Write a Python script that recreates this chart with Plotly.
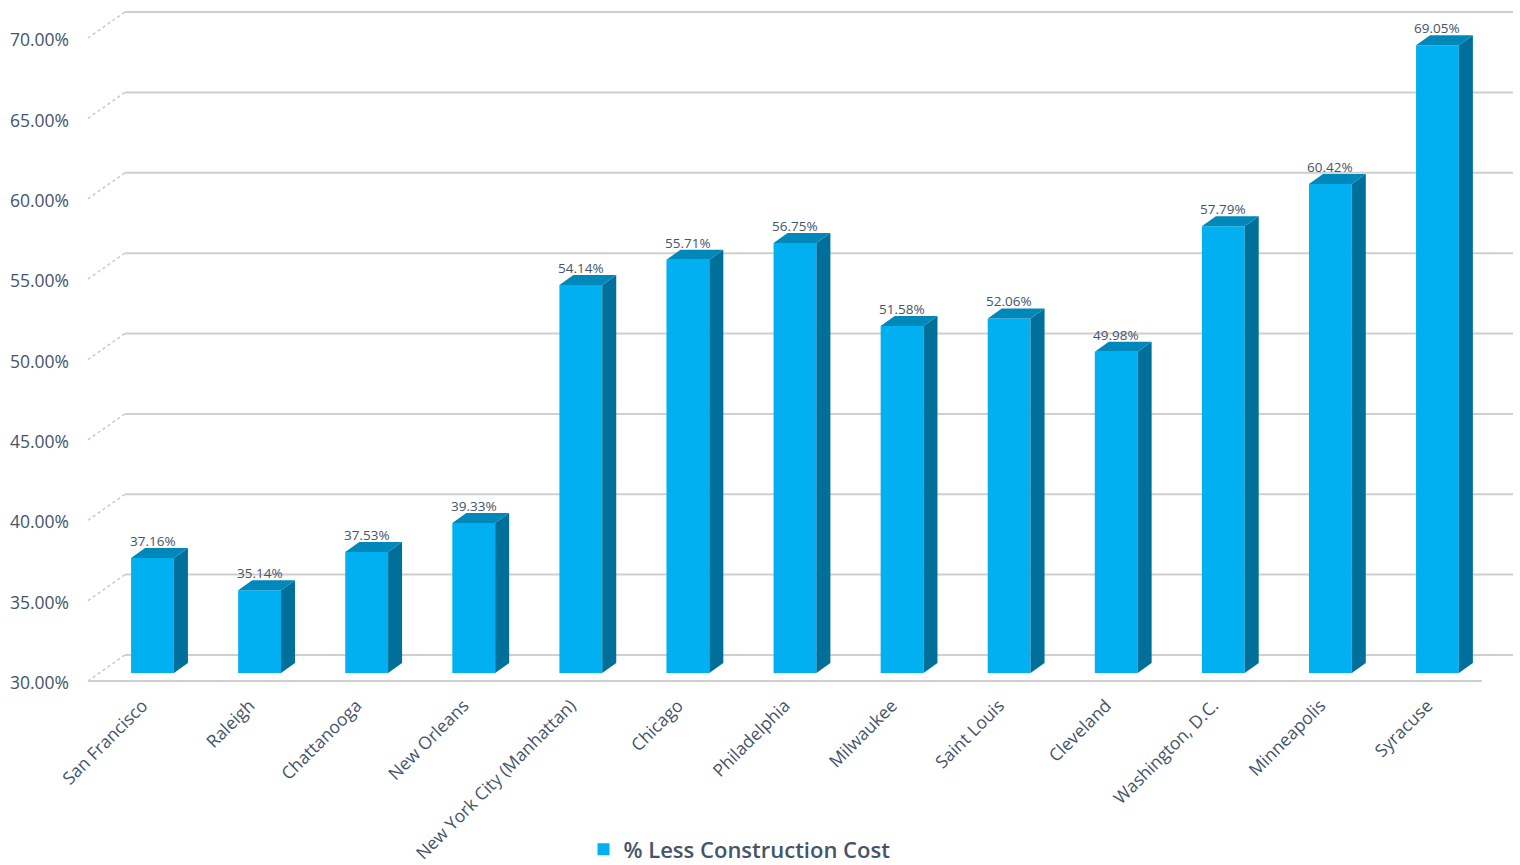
import plotly.graph_objects as go

cities = ["San Francisco", "Raleigh", "Chattanooga", "New Orleans",
          "New York City (Manhattan)", "Chicago", "Philadelphia", "Milwaukee",
          "Saint Louis", "Cleveland", "Washington, D.C.", "Minneapolis", "Syracuse"]
values = [37.16, 35.14, 37.53, 39.33, 54.14, 55.71, 56.75, 51.58, 52.06, 49.98, 57.79, 60.42, 69.05]
y_ticks = [30, 35, 40, 45, 50, 55, 60, 65, 70]
series_name = "% Less Construction Cost"

# ---- layout geometry ----
W, H = 1520, 865
L, R, T, B = 80, 0, 0, 181
plot_w, plot_h = W - L - R, H - T - B
cat_px = 107.08          # pixels per category
val_px = 16.075          # pixels per percentage point
floor_val = 30
floor_gap = 11           # px between floor of bars and bottom of plot area
first_cat_px = 152.5     # page x of first category centre

xmin = -(first_cat_px - L) / cat_px
xmax = xmin + plot_w / cat_px
ymin = floor_val - floor_gap / val_px
ymax = ymin + plot_h / val_px

bar_w = 0.40
bw_px = bar_w * cat_px
dep_x, dep_y = 14, 10          # bar depth offset (px)
back_x, back_y = 26, 18        # back wall offset from bar plane (px)
front_x, front_y = -11, -8     # front plane offset from bar plane (px)

FRONT = "#00B0F0"
SIDE = "#00709B"
TOP = "#0088BB"
GRID = "#CFCFCF"
TXT = "#44546A"
FONT = "Open Sans"

x_idx = list(range(len(cities)))

fig = go.Figure()
fig.add_trace(go.Bar(
    x=x_idx, y=[v - floor_val for v in values], base=floor_val, width=bar_w,
    name=series_name,
    marker=dict(color=FRONT, line=dict(width=0)),
    hoverinfo="skip", showlegend=True,
))

shapes = []
span_px = 13 * cat_px
for v in y_ticks:
    # back wall gridline
    shapes.append(dict(type="line", xref="x", yref="y",
                       xsizemode="pixel", ysizemode="pixel",
                       xanchor=-0.5, yanchor=v,
                       x0=back_x, x1=back_x + span_px - 4, y0=back_y, y1=back_y,
                       line=dict(color=GRID, width=2), layer="below"))
    # left wall diagonal
    shapes.append(dict(type="line", xref="x", yref="y",
                       xsizemode="pixel", ysizemode="pixel",
                       xanchor=-0.5, yanchor=v,
                       x0=front_x, x1=back_x, y0=front_y, y1=back_y,
                       line=dict(color="#C8C8C8", width=1.5, dash="dot"), layer="below"))
# front floor edge
shapes.append(dict(type="line", xref="x", yref="y",
                   xsizemode="pixel", ysizemode="pixel",
                   xanchor=-0.5, yanchor=floor_val,
                   x0=front_x, x1=front_x + span_px + 2, y0=front_y, y1=front_y,
                   line=dict(color=GRID, width=2), layer="below"))

# 3D faces of bars
for i, v in zip(x_idx, values):
    h = (v - floor_val) * val_px
    # side face (anchored at front-bottom-right corner)
    shapes.append(dict(type="path", xref="x", yref="y",
                       xsizemode="pixel", ysizemode="pixel",
                       xanchor=i + bar_w / 2, yanchor=floor_val,
                       path=f"M0,0 L0,{h:.2f} L{dep_x},{h + dep_y:.2f} L{dep_x},{dep_y} Z",
                       fillcolor=SIDE, line=dict(width=0), layer="above"))
    # top face (anchored at front-top-left corner)
    shapes.append(dict(type="path", xref="x", yref="y",
                       xsizemode="pixel", ysizemode="pixel",
                       xanchor=i - bar_w / 2, yanchor=v,
                       path=f"M0,0 L{bw_px:.2f},0 L{bw_px + dep_x:.2f},{dep_y} L{dep_x},{dep_y} Z",
                       fillcolor=TOP, line=dict(width=0), layer="above"))

annotations = []
for i, v in zip(x_idx, values):
    annotations.append(dict(x=i, y=v, xref="x", yref="y", text=f"{v:.2f}%",
                            showarrow=False, yshift=17,
                            font=dict(family=FONT, size=13.5, color=TXT)))

fig.update_layout(
    width=W, height=H,
    margin=dict(l=L, r=R, t=T, b=B, pad=0, autoexpand=False),
    paper_bgcolor="white", plot_bgcolor="white",
    shapes=shapes, annotations=annotations,
    xaxis=dict(range=[xmin, xmax], tickmode="array", tickvals=x_idx, ticktext=cities,
               tickangle=-45, showgrid=False, zeroline=False, showline=False,
               automargin=False,
               tickfont=dict(family=FONT, size=17.5, color=TXT),
               ticklabelstandoff=7, ticklabelshift=-10),
    yaxis=dict(range=[ymin, ymax], tickmode="array", tickvals=y_ticks,
               ticktext=[f"{t:.2f}%" for t in y_ticks],
               showgrid=False, zeroline=False, showline=False, automargin=False,
               tickfont=dict(family=FONT, size=17.5, color=TXT),
               ticklabelshift=10, ticklabelstandoff=10),
    legend=dict(orientation="h", x=0.458, xanchor="center", y=-0.242, yanchor="middle",
                font=dict(family=FONT, size=22, color=TXT, weight=600),
                bgcolor="rgba(0,0,0,0)", borderwidth=0, tracegroupgap=0),
    hovermode=False,
)

fig.write_html("out.html", config={"displayModeBar": False},
               post_script="document.body.style.margin='0px';document.body.style.overflow='hidden';")
